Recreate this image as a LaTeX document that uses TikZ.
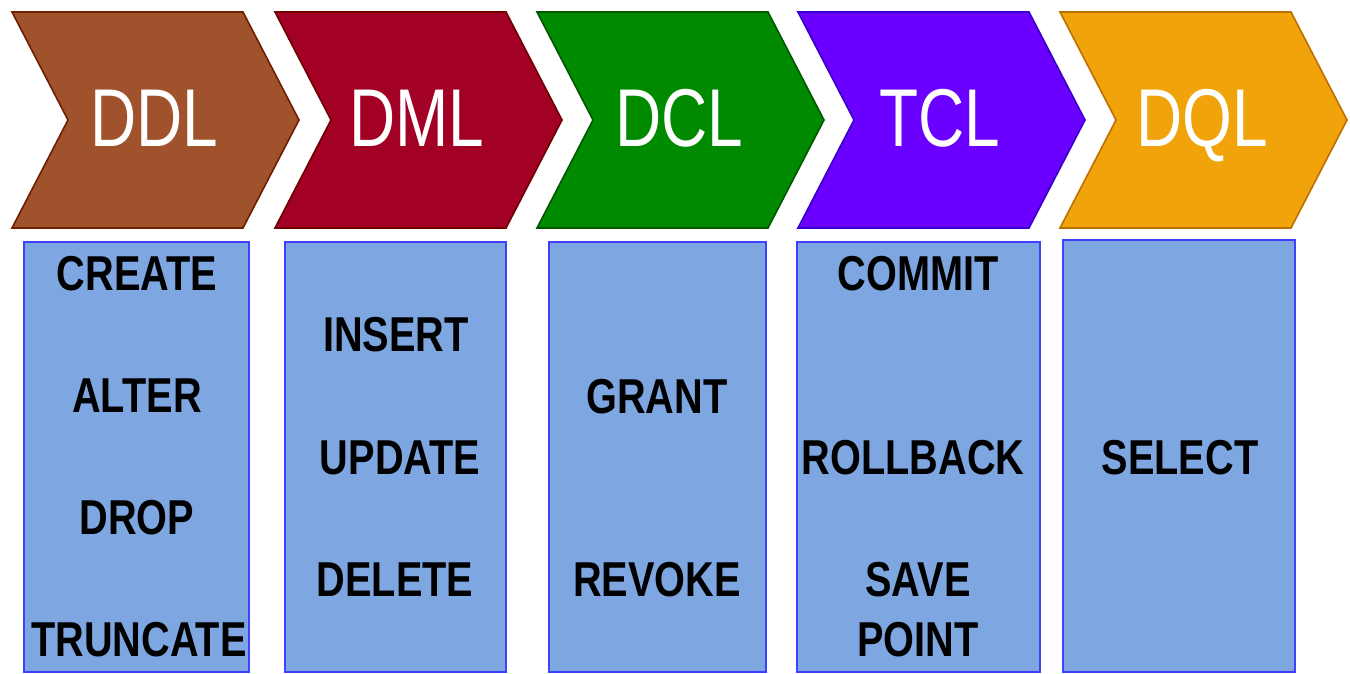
\documentclass[tikz,border=0pt]{standalone}
\usepackage{fontspec}
\setmainfont{Liberation Sans}
\newfontfamily\headfont[FakeStretch=0.78]{Liberation Sans}
\newfontfamily\itemfont[FakeStretch=0.81]{Liberation Sans Bold}

\definecolor{ddlfill}{HTML}{A0522D}\definecolor{ddlline}{HTML}{6D1F00}
\definecolor{dmlfill}{HTML}{A20025}\definecolor{dmlline}{HTML}{6F0000}
\definecolor{dclfill}{HTML}{008A00}\definecolor{dclline}{HTML}{005700}
\definecolor{tclfill}{HTML}{6A00FF}\definecolor{tclline}{HTML}{3700CC}
\definecolor{dqlfill}{HTML}{F0A30A}\definecolor{dqlline}{HTML}{BD7000}
\definecolor{boxfill}{HTML}{7EA6E0}
\definecolor{boxline}{HTML}{4040FF}

\begin{document}
\begin{tikzpicture}[x=0.5pt,y=-0.5pt,
  chev/.style={line width=0.8pt, line join=miter},
  head/.style={text=white, anchor=base, inner sep=0pt,
    font=\headfont\fontsize{41}{41}\selectfont},
  cmdbox/.style={fill=boxfill, draw=boxline, line width=1pt},
  item/.style={anchor=base, inner sep=0pt,
    font=\itemfont\fontsize{24.5}{24.5}\selectfont}]
\useasboundingbox (0,0) rectangle (1350,674);

% chevron headers: left edge, fill, border, label
\foreach \lx/\fc/\lc/\lab/\nm in {12/ddlfill/ddlline/DDL/ddl,
    275/dmlfill/dmlline/DML/dml, 537/dclfill/dclline/DCL/dcl,
    798/tclfill/tclline/TCL/tcl, 1060/dqlfill/dqlline/DQL/dql}{
  \draw[chev, fill=\fc, draw=\lc] (\lx,12) -- (\lx+231,12) -- (\lx+287,120)
    -- (\lx+231,228) -- (\lx,228) -- (\lx+56,120) -- cycle;
  \node[head] (\nm-head) at (\lx+142,147) {\lab};
}

% command boxes
\draw[cmdbox] (24,242) rectangle (249,672);
\draw[cmdbox] (285,242) rectangle (506,672);
\draw[cmdbox] (549,242) rectangle (766,672);
\draw[cmdbox] (797,242) rectangle (1040,672);
\draw[cmdbox] (1063,240) rectangle (1295,672);

% DDL commands
\node[item] (create) at (137,290) {CREATE};
\node[item] (alter) at (137,412) {ALTER};
\node[item] (drop) at (137,534) {DROP};
\node[item] (truncate) at (139,656) {TRUNCATE};
% DML commands
\node[item] (insert) at (396,351) {INSERT};
\node[item] (update) at (400,474) {UPDATE};
\node[item] (delete) at (395,596) {DELETE};
% DCL commands
\node[item] (grant) at (657,413) {GRANT};
\node[item] (revoke) at (657,596) {REVOKE};
% TCL commands
\node[item] (commit) at (918,290) {COMMIT};
\node[item] (rollback) at (913,474) {ROLLBACK};
\node[item] (save) at (918,596) {SAVE};
\node[item] (point) at (918,656) {POINT};
% DQL commands
\node[item] (select) at (1180,474) {SELECT};
\end{tikzpicture}
\end{document}
